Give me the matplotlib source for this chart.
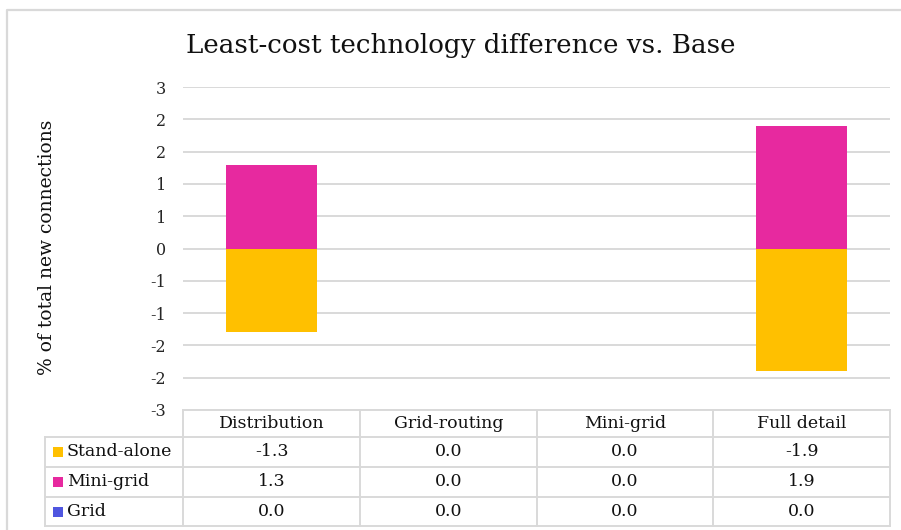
import math

import matplotlib
matplotlib.use('Agg')
import matplotlib.pyplot as plt
from matplotlib.patches import Rectangle
from matplotlib.ticker import FuncFormatter

categories = ["Distribution", "Grid-routing", "Mini-grid", "Full detail"]
series_names = ["Stand-alone", "Mini-grid", "Grid"]
stand_alone = [-1.3, 0.0, 0.0, -1.9]
mini_grid = [1.3, 0.0, 0.0, 1.9]
grid = [0.0, 0.0, 0.0, 0.0]
series_colors = ["#FFC000", "#E7299F", "#4F56E0"]

title = "Least-cost technology difference vs. Base"
y_label = "% of total new connections"

FONT = "DejaVu Serif"
GRID_GRAY = "#d9d9d9"
W, H = 901, 530


def whole_number(v, _pos=None):
    # round half away from zero, the way spreadsheet number formats do
    r = math.floor(abs(v) + 0.5)
    return "0" if r == 0 else f"{'-' if v < 0 else ''}{r}"


def fx(px):
    return px / W


def fy(py):
    return 1 - py / H


fig = plt.figure(figsize=(W / 100, H / 100), dpi=100)
fig.patch.set_facecolor("white")

# full-figure overlay in pixel units for border, title and data table
frame = fig.add_axes([0, 0, 1, 1], zorder=0)
frame.set_xlim(0, W)
frame.set_ylim(H, 0)
frame.axis("off")

# plot area
left, right, top, bottom = 183, 890, 87, 410
ax = fig.add_axes([fx(left), fy(bottom), fx(right - left), fy(top) - fy(bottom)], zorder=1)
ax.patch.set_alpha(0)

x = list(range(len(categories)))
ax.bar(x, grid, width=0.513, color=series_colors[2], linewidth=0, zorder=3)
ax.bar(x, stand_alone, width=0.513, color=series_colors[0], linewidth=0, zorder=3)
ax.bar(x, mini_grid, width=0.513, color=series_colors[1], linewidth=0, zorder=3)

ax.set_xlim(-0.5, len(categories) - 0.5)
ax.set_ylim(-2.5, 2.5)
ax.set_yticks([i * 0.5 for i in range(-5, 6)])
ax.yaxis.set_major_formatter(FuncFormatter(whole_number))
ax.set_xticks([])
ax.grid(axis="y", color=GRID_GRAY, linewidth=1.4, zorder=0)
ax.tick_params(axis="y", length=0, pad=12, labelsize=11.5, labelcolor="#262626")
for lbl in ax.get_yticklabels():
    lbl.set_fontfamily(FONT)
for s in ax.spines.values():
    s.set_visible(False)

# outer chart border (clipped at right and bottom)
frame.plot([7, 7, W], [H, 10, 10], color=GRID_GRAY, linewidth=1.6, clip_on=False)

frame.text(461, 45, title, ha="center", va="center", fontsize=18.8,
           fontfamily=FONT, color="#111111")
frame.text(47, 247, y_label, ha="center", va="center", rotation=90,
           fontsize=13.5, fontfamily=FONT, color="#111111")

# data table under the plot
col_edges = [183, 360, 537, 713, 890]
row_edges = [410, 437, 467, 497, 526]
table_left = 45
lw = 1.4
for xe in col_edges:
    frame.plot([xe, xe], [row_edges[0], row_edges[-1]], color=GRID_GRAY, lw=lw)
frame.plot([table_left, table_left], [row_edges[1], row_edges[-1]], color=GRID_GRAY, lw=lw)
frame.plot([col_edges[0], col_edges[-1]], [row_edges[0], row_edges[0]], color=GRID_GRAY, lw=lw)
for ye in row_edges[1:]:
    frame.plot([table_left, col_edges[-1]], [ye, ye], color=GRID_GRAY, lw=lw)

for c, name in enumerate(categories):
    cx = (col_edges[c] + col_edges[c + 1]) / 2
    frame.text(cx, (row_edges[0] + row_edges[1]) / 2, name, ha="center", va="center",
               fontsize=12.5, fontfamily=FONT, color="#111111")

table_rows = [stand_alone, mini_grid, grid]
for r, (name, values, color) in enumerate(zip(series_names, table_rows, series_colors)):
    cy = (row_edges[r + 1] + row_edges[r + 2]) / 2
    frame.add_patch(Rectangle((53, cy - 5), 10, 10, facecolor=color, edgecolor="none"))
    frame.text(67, cy, name, ha="left", va="center", fontsize=12.5,
               fontfamily=FONT, color="#111111")
    for c, v in enumerate(values):
        cx = (col_edges[c] + col_edges[c + 1]) / 2
        frame.text(cx, cy, f"{v:.1f}", ha="center", va="center", fontsize=12.5,
                   fontfamily=FONT, color="#111111")

fig.savefig("out.png", dpi=100)
plt.close(fig)
